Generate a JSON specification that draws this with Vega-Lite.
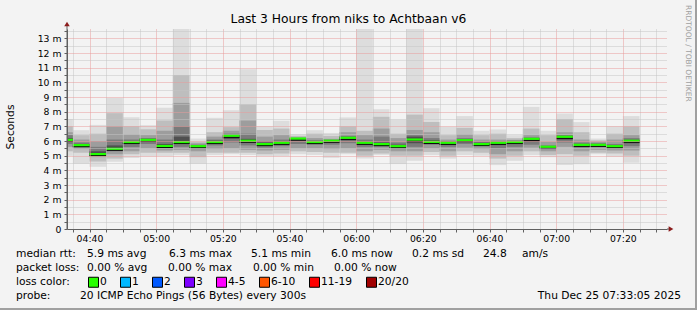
{
  "$schema": "https://vega.github.io/schema/vega-lite/v6.json",
  "width": 600,
  "height": 200,
  "autosize": {"type": "none"},
  "padding": {"left": 67, "top": 29, "right": 30, "bottom": 81},
  "background": "#f3f3f3",
  "config": {
    "view": {"stroke": null, "fill": "#ffffff"}
  },
  "layer": [
    {
      "data": {"values": [
      {"t":"2025-12-25T04:30:00","e":"2025-12-25T04:35:00","lo1":4.99,"hi1":7.5,"lo2":5.3,"hi2":7.0,"lo3":5.6,"hi3":6.6,"lo4":5.8,"hi4":6.4,"lo5":5.95,"hi5":6.2,"m":6.08},
      {"t":"2025-12-25T04:35:00","e":"2025-12-25T04:40:00","lo1":4.45,"hi1":6.74,"lo2":5.2,"hi2":6.4,"lo3":5.45,"hi3":6.1,"lo4":5.55,"hi4":5.9,"lo5":5.62,"hi5":5.8,"m":5.72},
      {"t":"2025-12-25T04:40:00","e":"2025-12-25T04:45:00","lo1":4.24,"hi1":7.1,"lo2":4.6,"hi2":6.5,"lo3":4.9,"hi3":6.0,"lo4":5.0,"hi4":5.6,"lo5":5.04,"hi5":5.3,"m":5.11},
      {"t":"2025-12-25T04:45:00","e":"2025-12-25T04:50:00","lo1":4.58,"hi1":8.94,"lo2":4.8,"hi2":7.9,"lo3":5.1,"hi3":7.0,"lo4":5.3,"hi4":6.1,"lo5":5.4,"hi5":5.7,"m":5.47},
      {"t":"2025-12-25T04:50:00","e":"2025-12-25T04:55:00","lo1":4.85,"hi1":7.62,"lo2":5.1,"hi2":7.0,"lo3":5.3,"hi3":6.45,"lo4":5.6,"hi4":6.1,"lo5":5.8,"hi5":6.0,"m":5.93},
      {"t":"2025-12-25T04:55:00","e":"2025-12-25T05:00:00","lo1":4.95,"hi1":7.08,"lo2":5.2,"hi2":6.8,"lo3":5.5,"hi3":6.4,"lo4":5.8,"hi4":6.2,"lo5":5.95,"hi5":6.15,"m":6.08},
      {"t":"2025-12-25T05:00:00","e":"2025-12-25T05:05:00","lo1":4.97,"hi1":8.27,"lo2":5.2,"hi2":7.4,"lo3":5.35,"hi3":6.7,"lo4":5.5,"hi4":6.1,"lo5":5.58,"hi5":5.8,"m":5.66},
      {"t":"2025-12-25T05:05:00","e":"2025-12-25T05:10:00","lo1":5.03,"hi1":14.5,"lo2":5.2,"hi2":10.5,"lo3":5.4,"hi3":8.6,"lo4":5.6,"hi4":7.0,"lo5":5.8,"hi5":6.3,"m":5.93},
      {"t":"2025-12-25T05:10:00","e":"2025-12-25T05:15:00","lo1":4.45,"hi1":6.17,"lo2":4.9,"hi2":5.95,"lo3":5.3,"hi3":5.85,"lo4":5.5,"hi4":5.75,"lo5":5.58,"hi5":5.7,"m":5.65},
      {"t":"2025-12-25T05:15:00","e":"2025-12-25T05:20:00","lo1":5.04,"hi1":7.58,"lo2":5.2,"hi2":6.6,"lo3":5.45,"hi3":6.3,"lo4":5.7,"hi4":6.1,"lo5":5.85,"hi5":6.02,"m":5.93},
      {"t":"2025-12-25T05:20:00","e":"2025-12-25T05:25:00","lo1":5.1,"hi1":8.1,"lo2":5.2,"hi2":6.95,"lo3":5.5,"hi3":6.7,"lo4":5.9,"hi4":6.5,"lo5":6.15,"hi5":6.45,"m":6.36},
      {"t":"2025-12-25T05:25:00","e":"2025-12-25T05:30:00","lo1":5.04,"hi1":10.9,"lo2":5.2,"hi2":8.5,"lo3":5.4,"hi3":7.4,"lo4":5.7,"hi4":6.5,"lo5":5.9,"hi5":6.15,"m":6.02},
      {"t":"2025-12-25T05:30:00","e":"2025-12-25T05:35:00","lo1":4.97,"hi1":7.01,"lo2":5.1,"hi2":6.75,"lo3":5.35,"hi3":6.3,"lo4":5.55,"hi4":6.0,"lo5":5.7,"hi5":5.9,"m":5.79},
      {"t":"2025-12-25T05:35:00","e":"2025-12-25T05:40:00","lo1":4.97,"hi1":7.38,"lo2":5.15,"hi2":6.85,"lo3":5.4,"hi3":6.4,"lo4":5.65,"hi4":6.1,"lo5":5.8,"hi5":5.95,"m":5.88},
      {"t":"2025-12-25T05:40:00","e":"2025-12-25T05:45:00","lo1":5.1,"hi1":6.45,"lo2":5.3,"hi2":6.35,"lo3":5.5,"hi3":6.25,"lo4":5.8,"hi4":6.2,"lo5":6.0,"hi5":6.18,"m":6.17},
      {"t":"2025-12-25T05:45:00","e":"2025-12-25T05:50:00","lo1":5.05,"hi1":6.74,"lo2":5.25,"hi2":6.5,"lo3":5.5,"hi3":6.2,"lo4":5.75,"hi4":6.05,"lo5":5.85,"hi5":5.98,"m":5.93},
      {"t":"2025-12-25T05:50:00","e":"2025-12-25T05:55:00","lo1":4.85,"hi1":6.55,"lo2":5.2,"hi2":6.35,"lo3":5.45,"hi3":6.15,"lo4":5.75,"hi4":6.08,"lo5":5.9,"hi5":6.05,"m":6.02},
      {"t":"2025-12-25T05:55:00","e":"2025-12-25T06:00:00","lo1":5.1,"hi1":7.61,"lo2":5.2,"hi2":7.0,"lo3":5.5,"hi3":6.6,"lo4":5.85,"hi4":6.35,"lo5":6.05,"hi5":6.28,"m":6.22},
      {"t":"2025-12-25T06:00:00","e":"2025-12-25T06:05:00","lo1":4.8,"hi1":14.5,"lo2":5.0,"hi2":6.7,"lo3":5.3,"hi3":6.4,"lo4":5.6,"hi4":6.1,"lo5":5.78,"hi5":5.95,"m":5.88},
      {"t":"2025-12-25T06:05:00","e":"2025-12-25T06:10:00","lo1":5.05,"hi1":8.17,"lo2":5.15,"hi2":7.65,"lo3":5.4,"hi3":6.85,"lo4":5.6,"hi4":6.3,"lo5":5.7,"hi5":5.9,"m":5.79},
      {"t":"2025-12-25T06:10:00","e":"2025-12-25T06:15:00","lo1":4.43,"hi1":7.45,"lo2":5.0,"hi2":6.5,"lo3":5.3,"hi3":6.2,"lo4":5.5,"hi4":5.9,"lo5":5.6,"hi5":5.75,"m":5.65},
      {"t":"2025-12-25T06:15:00","e":"2025-12-25T06:20:00","lo1":4.65,"hi1":14.5,"lo2":5.0,"hi2":7.8,"lo3":5.3,"hi3":6.75,"lo4":5.6,"hi4":6.4,"lo5":5.85,"hi5":6.3,"m":6.1},
      {"t":"2025-12-25T06:20:00","e":"2025-12-25T06:25:00","lo1":5.04,"hi1":8.24,"lo2":5.25,"hi2":7.3,"lo3":5.5,"hi3":6.6,"lo4":5.75,"hi4":6.2,"lo5":5.88,"hi5":6.05,"m":5.94},
      {"t":"2025-12-25T06:25:00","e":"2025-12-25T06:30:00","lo1":4.8,"hi1":6.97,"lo2":5.0,"hi2":6.4,"lo3":5.3,"hi3":6.1,"lo4":5.6,"hi4":6.0,"lo5":5.75,"hi5":5.95,"m":5.88},
      {"t":"2025-12-25T06:30:00","e":"2025-12-25T06:35:00","lo1":5.04,"hi1":7.7,"lo2":5.3,"hi2":6.9,"lo3":5.55,"hi3":6.45,"lo4":5.8,"hi4":6.2,"lo5":5.95,"hi5":6.12,"m":6.06},
      {"t":"2025-12-25T06:35:00","e":"2025-12-25T06:40:00","lo1":5.0,"hi1":6.7,"lo2":5.2,"hi2":6.4,"lo3":5.45,"hi3":6.1,"lo4":5.65,"hi4":5.95,"lo5":5.73,"hi5":5.88,"m":5.79},
      {"t":"2025-12-25T06:40:00","e":"2025-12-25T06:45:00","lo1":4.36,"hi1":6.79,"lo2":4.8,"hi2":6.5,"lo3":5.1,"hi3":6.1,"lo4":5.5,"hi4":5.98,"lo5":5.72,"hi5":5.92,"m":5.88},
      {"t":"2025-12-25T06:45:00","e":"2025-12-25T06:50:00","lo1":4.65,"hi1":6.4,"lo2":5.0,"hi2":6.2,"lo3":5.3,"hi3":6.08,"lo4":5.6,"hi4":6.02,"lo5":5.85,"hi5":5.97,"m":5.93},
      {"t":"2025-12-25T06:50:00","e":"2025-12-25T06:55:00","lo1":5.04,"hi1":8.33,"lo2":5.3,"hi2":6.85,"lo3":5.55,"hi3":6.4,"lo4":5.75,"hi4":6.25,"lo5":5.95,"hi5":6.2,"m":6.15},
      {"t":"2025-12-25T06:55:00","e":"2025-12-25T07:00:00","lo1":4.9,"hi1":6.7,"lo2":5.05,"hi2":6.4,"lo3":5.3,"hi3":5.95,"lo4":5.45,"hi4":5.7,"lo5":5.52,"hi5":5.65,"m":5.61},
      {"t":"2025-12-25T07:00:00","e":"2025-12-25T07:05:00","lo1":4.36,"hi1":7.88,"lo2":5.1,"hi2":7.5,"lo3":5.6,"hi3":6.6,"lo4":5.9,"hi4":6.4,"lo5":6.1,"hi5":6.35,"m":6.29},
      {"t":"2025-12-25T07:05:00","e":"2025-12-25T07:10:00","lo1":4.42,"hi1":7.29,"lo2":5.0,"hi2":6.6,"lo3":5.3,"hi3":6.1,"lo4":5.55,"hi4":5.9,"lo5":5.66,"hi5":5.8,"m":5.74},
      {"t":"2025-12-25T07:10:00","e":"2025-12-25T07:15:00","lo1":5.1,"hi1":6.17,"lo2":5.2,"hi2":6.05,"lo3":5.4,"hi3":5.95,"lo4":5.6,"hi4":5.85,"lo5":5.68,"hi5":5.8,"m":5.74},
      {"t":"2025-12-25T07:15:00","e":"2025-12-25T07:20:00","lo1":4.93,"hi1":7.01,"lo2":5.15,"hi2":6.5,"lo3":5.35,"hi3":6.1,"lo4":5.5,"hi4":5.8,"lo5":5.6,"hi5":5.72,"m":5.65},
      {"t":"2025-12-25T07:20:00","e":"2025-12-25T07:25:00","lo1":4.52,"hi1":7.7,"lo2":5.0,"hi2":7.0,"lo3":5.35,"hi3":6.4,"lo4":5.65,"hi4":6.2,"lo5":5.85,"hi5":6.08,"m":6.02}
      ]},
      "encoding": {
        "x": {
          "field": "t", "type": "temporal", "title": null,
          "scale": {"domain": [{"year":2025,"month":12,"date":25,"hours":4,"minutes":33,"seconds":15},{"year":2025,"month":12,"date":25,"hours":7,"minutes":33,"seconds":15}], "clamp": true, "nice": false},
          "axis": {
            "values": [
              {"year":2025,"month":12,"date":25,"hours":4,"minutes":35},{"year":2025,"month":12,"date":25,"hours":4,"minutes":40},{"year":2025,"month":12,"date":25,"hours":4,"minutes":45},{"year":2025,"month":12,"date":25,"hours":4,"minutes":50},{"year":2025,"month":12,"date":25,"hours":4,"minutes":55},
              {"year":2025,"month":12,"date":25,"hours":5,"minutes":0},{"year":2025,"month":12,"date":25,"hours":5,"minutes":5},{"year":2025,"month":12,"date":25,"hours":5,"minutes":10},{"year":2025,"month":12,"date":25,"hours":5,"minutes":15},{"year":2025,"month":12,"date":25,"hours":5,"minutes":20},{"year":2025,"month":12,"date":25,"hours":5,"minutes":25},{"year":2025,"month":12,"date":25,"hours":5,"minutes":30},{"year":2025,"month":12,"date":25,"hours":5,"minutes":35},{"year":2025,"month":12,"date":25,"hours":5,"minutes":40},{"year":2025,"month":12,"date":25,"hours":5,"minutes":45},{"year":2025,"month":12,"date":25,"hours":5,"minutes":50},{"year":2025,"month":12,"date":25,"hours":5,"minutes":55},
              {"year":2025,"month":12,"date":25,"hours":6,"minutes":0},{"year":2025,"month":12,"date":25,"hours":6,"minutes":5},{"year":2025,"month":12,"date":25,"hours":6,"minutes":10},{"year":2025,"month":12,"date":25,"hours":6,"minutes":15},{"year":2025,"month":12,"date":25,"hours":6,"minutes":20},{"year":2025,"month":12,"date":25,"hours":6,"minutes":25},{"year":2025,"month":12,"date":25,"hours":6,"minutes":30},{"year":2025,"month":12,"date":25,"hours":6,"minutes":35},{"year":2025,"month":12,"date":25,"hours":6,"minutes":40},{"year":2025,"month":12,"date":25,"hours":6,"minutes":45},{"year":2025,"month":12,"date":25,"hours":6,"minutes":50},{"year":2025,"month":12,"date":25,"hours":6,"minutes":55},
              {"year":2025,"month":12,"date":25,"hours":7,"minutes":0},{"year":2025,"month":12,"date":25,"hours":7,"minutes":5},{"year":2025,"month":12,"date":25,"hours":7,"minutes":10},{"year":2025,"month":12,"date":25,"hours":7,"minutes":15},{"year":2025,"month":12,"date":25,"hours":7,"minutes":20},{"year":2025,"month":12,"date":25,"hours":7,"minutes":25},{"year":2025,"month":12,"date":25,"hours":7,"minutes":30}
            ],
            "labelExpr": "minutes(datum.value) % 20 === 0 ? timeFormat(datum.value, '%H:%M') : ''",
            "labelOverlap": false,
            "labelFlush": false,
            "labelFont": "DejaVu Sans",
            "labelFontSize": 9.3,
            "labelColor": "#000000",
            "labelPadding": 2,
            "tickSize": 3,
            "tickColor": "#606060",
            "domainColor": "#606060",
            "grid": true,
            "gridColor": {"condition": {"test": "minutes(datum.value) % 20 === 0", "value": "#e89a9a"}, "value": "#c4c4c4"},
            "gridDash": [1, 1],
            "zindex": 1
          }
        },
        "x2": {"field": "e"}
      },
      "resolve": {"axis": {"y": "independent"}},
      "layer": [
        {
          "mark": {"type": "rect", "color": "#dddddd"},
          "encoding": {
            "y": {
              "field": "lo1", "type": "quantitative", "title": null,
              "scale": {"domain": [0, 13.64], "clamp": true, "nice": false, "zero": true},
              "axis": {
                "values": [0,0.5,1,1.5,2,2.5,3,3.5,4,4.5,5,5.5,6,6.5,7,7.5,8,8.5,9,9.5,10,10.5,11,11.5,12,12.5,13,13.5],
                "labelExpr": "datum.value % 1 !== 0 ? '' : (datum.value === 0 ? '0' : datum.value + ' m')",
                "orient": "left",
                "labelOverlap": false,
                "labelFlush": false,
                "labelFont": "DejaVu Sans",
                "labelFontSize": 9.3,
                "labelColor": "#000000",
                "labelPadding": 3,
                "tickSize": 3,
                "tickColor": "#606060",
                "domainColor": "#606060",
                "grid": true,
                "gridColor": {"condition": {"test": "datum.value % 1 === 0", "value": "#e89a9a"}, "value": "#c4c4c4"},
                "gridDash": [1, 1],
                "zindex": 1
              }
            },
            "y2": {"field": "hi1"}
          }
        },
        {"mark": {"type": "rect", "color": "#bebebe"}, "encoding": {"y": {"field": "lo2", "type": "quantitative", "axis": null}, "y2": {"field": "hi2"}}},
        {"mark": {"type": "rect", "color": "#9d9d9d"}, "encoding": {"y": {"field": "lo3", "type": "quantitative", "axis": null}, "y2": {"field": "hi3"}}},
        {"mark": {"type": "rect", "color": "#7a7a7a"}, "encoding": {"y": {"field": "lo4", "type": "quantitative", "axis": null}, "y2": {"field": "hi4"}}},
        {"mark": {"type": "rect", "color": "#4f4f4f"}, "encoding": {"y": {"field": "lo5", "type": "quantitative", "axis": null}, "y2": {"field": "hi5"}}},
        {"mark": {"type": "rule", "color": "#000000", "strokeWidth": 1, "yOffset": 1.5}, "encoding": {"y": {"field": "m", "type": "quantitative", "axis": null}}},
        {"mark": {"type": "rule", "color": "#22ff00", "strokeWidth": 2.2}, "encoding": {"y": {"field": "m", "type": "quantitative", "axis": null}}}
      ]
    },
    {
      "data": {"values": [{"loss":"0"},{"loss":"1"},{"loss":"2"},{"loss":"3"},{"loss":"4-5"},{"loss":"6-10"},{"loss":"11-19"},{"loss":"20/20"}]},
      "mark": {"type": "point", "shape": "square", "filled": true, "opacity": 0},
      "encoding": {
        "fill": {
          "field": "loss", "type": "nominal",
          "scale": {"domain": ["0","1","2","3","4-5","6-10","11-19","20/20"], "range": ["#26ff00","#00b8ff","#0059ff","#7e00ff","#ff00ff","#ff5500","#ff0000","#a10000"]},
          "legend": {
            "orient": "none", "legendX": 21, "legendY": 247.5, "direction": "horizontal", "title": null,
            "symbolType": "square", "symbolSize": 100, "symbolStrokeColor": "#000000", "symbolStrokeWidth": 1, "symbolOpacity": 1,
            "labelFont": "DejaVu Sans", "labelFontSize": 10.7, "labelColor": "#000000", "labelOffset": 1, "columnPadding": 11
          }
        }
      }
    },
    {"data": {"values": [{}]}, "mark": {"type": "rule", "color": "#606060"}, "encoding": {"x": {"value": 0}, "y": {"value": -5}, "y2": {"value": 200}}},
    {"data": {"values": [{}]}, "mark": {"type": "rule", "color": "#606060"}, "encoding": {"x": {"value": 600}, "x2": {"value": 604}, "y": {"value": 200}}},
    {"data": {"values": [{}]}, "mark": {"type": "point", "shape": "triangle-up", "filled": true, "color": "#8b1c1c", "size": 30, "opacity": 1}, "encoding": {"x": {"value": 0}, "y": {"value": -5}}},
    {"data": {"values": [{}]}, "mark": {"type": "point", "shape": "triangle-right", "filled": true, "color": "#8b1c1c", "size": 30, "opacity": 1}, "encoding": {"x": {"value": 604}, "y": {"value": 200}}},
    {"data": {"values": [{}]}, "mark": {"type": "rule", "color": "#a0a0a0", "strokeWidth": 2}, "encoding": {"x": {"value": -67}, "x2": {"value": 630}, "y": {"value": 280}}},
    {"data": {"values": [{}]}, "mark": {"type": "rule", "color": "#a0a0a0", "strokeWidth": 2}, "encoding": {"x": {"value": 629}, "y": {"value": -29}, "y2": {"value": 281}}},
    {"data": {"values": [{}]}, "mark": {"type": "text", "align": "center", "baseline": "middle", "font": "DejaVu Sans", "fontSize": 12.3, "color": "#000000"}, "encoding": {"x": {"value": 281.5}, "y": {"value": -10.5}, "text": {"value": "Last 3 Hours from niks to Achtbaan v6"}}},
    {"data": {"values": [{}]}, "mark": {"type": "text", "align": "center", "baseline": "middle", "angle": 270, "font": "DejaVu Sans", "fontSize": 10.7, "color": "#000000"}, "encoding": {"x": {"value": -56}, "y": {"value": 98}, "text": {"value": "Seconds"}}},
    {"data": {"values": [{}]}, "mark": {"type": "text", "align": "left", "baseline": "middle", "angle": 90, "font": "DejaVu Sans", "fontSize": 7.5, "color": "#a0a0a0"}, "encoding": {"x": {"value": 620.5}, "y": {"value": -24}, "text": {"value": "RRDTOOL / TOBI OETIKER"}}},
    {"data": {"values": [{}]}, "mark": {"type": "text", "align": "left", "baseline": "middle", "font": "DejaVu Sans", "fontSize": 10.7, "color": "#000000"}, "encoding": {"x": {"value": -51}, "y": {"value": 225}, "text": {"value": "median rtt:"}}},
    {"data": {"values": [{}]}, "mark": {"type": "text", "align": "left", "baseline": "middle", "font": "DejaVu Sans", "fontSize": 10.7, "color": "#000000"}, "encoding": {"x": {"value": 20}, "y": {"value": 225}, "text": {"value": "5.9 ms avg"}}},
    {"data": {"values": [{}]}, "mark": {"type": "text", "align": "left", "baseline": "middle", "font": "DejaVu Sans", "fontSize": 10.7, "color": "#000000"}, "encoding": {"x": {"value": 102}, "y": {"value": 225}, "text": {"value": "6.3 ms max"}}},
    {"data": {"values": [{}]}, "mark": {"type": "text", "align": "left", "baseline": "middle", "font": "DejaVu Sans", "fontSize": 10.7, "color": "#000000"}, "encoding": {"x": {"value": 184}, "y": {"value": 225}, "text": {"value": "5.1 ms min"}}},
    {"data": {"values": [{}]}, "mark": {"type": "text", "align": "left", "baseline": "middle", "font": "DejaVu Sans", "fontSize": 10.7, "color": "#000000"}, "encoding": {"x": {"value": 264}, "y": {"value": 225}, "text": {"value": "6.0 ms now"}}},
    {"data": {"values": [{}]}, "mark": {"type": "text", "align": "left", "baseline": "middle", "font": "DejaVu Sans", "fontSize": 10.7, "color": "#000000"}, "encoding": {"x": {"value": 345}, "y": {"value": 225}, "text": {"value": "0.2 ms sd"}}},
    {"data": {"values": [{}]}, "mark": {"type": "text", "align": "left", "baseline": "middle", "font": "DejaVu Sans", "fontSize": 10.7, "color": "#000000"}, "encoding": {"x": {"value": 416}, "y": {"value": 225}, "text": {"value": "24.8"}}},
    {"data": {"values": [{}]}, "mark": {"type": "text", "align": "left", "baseline": "middle", "font": "DejaVu Sans", "fontSize": 10.7, "color": "#000000"}, "encoding": {"x": {"value": 455}, "y": {"value": 225}, "text": {"value": "am/s"}}},
    {"data": {"values": [{}]}, "mark": {"type": "text", "align": "left", "baseline": "middle", "font": "DejaVu Sans", "fontSize": 10.7, "color": "#000000"}, "encoding": {"x": {"value": -51}, "y": {"value": 239}, "text": {"value": "packet loss:"}}},
    {"data": {"values": [{}]}, "mark": {"type": "text", "align": "left", "baseline": "middle", "font": "DejaVu Sans", "fontSize": 10.7, "color": "#000000"}, "encoding": {"x": {"value": 20}, "y": {"value": 239}, "text": {"value": "0.00 % avg"}}},
    {"data": {"values": [{}]}, "mark": {"type": "text", "align": "left", "baseline": "middle", "font": "DejaVu Sans", "fontSize": 10.7, "color": "#000000"}, "encoding": {"x": {"value": 101}, "y": {"value": 239}, "text": {"value": "0.00 % max"}}},
    {"data": {"values": [{}]}, "mark": {"type": "text", "align": "left", "baseline": "middle", "font": "DejaVu Sans", "fontSize": 10.7, "color": "#000000"}, "encoding": {"x": {"value": 186}, "y": {"value": 239}, "text": {"value": "0.00 % min"}}},
    {"data": {"values": [{}]}, "mark": {"type": "text", "align": "left", "baseline": "middle", "font": "DejaVu Sans", "fontSize": 10.7, "color": "#000000"}, "encoding": {"x": {"value": 267}, "y": {"value": 239}, "text": {"value": "0.00 % now"}}},
    {"data": {"values": [{}]}, "mark": {"type": "text", "align": "left", "baseline": "middle", "font": "DejaVu Sans", "fontSize": 10.7, "color": "#000000"}, "encoding": {"x": {"value": -51}, "y": {"value": 253}, "text": {"value": "loss color:"}}},
    {"data": {"values": [{}]}, "mark": {"type": "text", "align": "left", "baseline": "middle", "font": "DejaVu Sans", "fontSize": 10.7, "color": "#000000"}, "encoding": {"x": {"value": -51}, "y": {"value": 267}, "text": {"value": "probe:"}}},
    {"data": {"values": [{}]}, "mark": {"type": "text", "align": "left", "baseline": "middle", "font": "DejaVu Sans", "fontSize": 10.7, "color": "#000000"}, "encoding": {"x": {"value": 13}, "y": {"value": 267}, "text": {"value": "20 ICMP Echo Pings (56 Bytes) every 300s"}}},
    {"data": {"values": [{}]}, "mark": {"type": "text", "align": "right", "baseline": "middle", "font": "DejaVu Sans", "fontSize": 10.7, "color": "#000000"}, "encoding": {"x": {"value": 614}, "y": {"value": 267}, "text": {"value": "Thu Dec 25 07:33:05 2025"}}}
  ]
}
